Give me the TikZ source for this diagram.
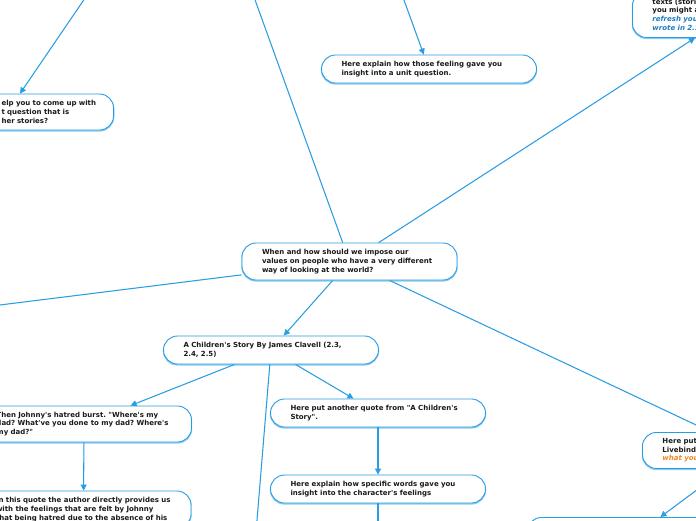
\documentclass[tikz,border=0pt]{standalone}
\usepackage{fontspec}
\newfontfamily\mmfont{DejaVu Sans}
\usetikzlibrary{arrows.meta,calc}
\definecolor{linecol}{HTML}{299DE2}
\definecolor{shadowcol}{HTML}{8CCBF0}
\definecolor{txtcol}{HTML}{1A1A1A}
\definecolor{bluetxt}{HTML}{1F7EC2}
\definecolor{orangetxt}{HTML}{F0891E}
\frenchspacing
\begin{document}
\begin{tikzpicture}[x=1pt,y=-1pt,
  box/.style={draw=linecol, line width=0.9pt, fill=white, rounded corners=14pt,
    inner xsep=20pt, inner ysep=3pt, text width=175pt, align=left,
    font=\mmfont\fontsize{7}{8.7}\selectfont\bfseries\frenchspacing, text=txtcol,
    preaction={draw=shadowcol, line width=1.4pt, transform canvas={yshift=-0.9pt}}},
  conn/.style={draw=linecol, line width=1.05pt},
  arr/.style={conn, -{Triangle[length=6pt,width=6pt]}}]
\fill[white] (0,0) rectangle (696,520);
\useasboundingbox (0,0) rectangle (696,520);

% free ends
\coordinate (tA) at (254,-3);
\coordinate (tB) at (402.5,-4);
\coordinate (tC) at (86.5,-4);
\coordinate (lA) at (-5,305.6);
\coordinate (bA) at (256.6,525);
\coordinate (bB) at (378,525);

% nodes
\node[box, minimum height=37pt] (cen) at (349.5,261.5)
  {\mbox{When and how should we impose our}\\\mbox{values on people who have a very different}\\\mbox{way of looking at the world?}};
\node[box, minimum height=28pt] (story) at (271,350)
  {\mbox{A Children's Story By James Clavell (2.3,}\\\mbox{2.4, 2.5)}};
\node[box, minimum height=36pt] (johnny) at (84,424)
  {\mbox{Then Johnny's hatred burst. "Where's my}\\\mbox{dad? What've you done to my dad? Where's}\\\mbox{my dad?"}};
\node[box, minimum height=37pt] (quote) at (83.5,509.5)
  {\mbox{In this quote the author directly provides us}\\\mbox{with the feelings that are felt by Johnny}\\\mbox{that being hatred due to the absence of his}};
\node[box, minimum height=28pt] (another) at (378,413)
  {\mbox{Here put another quote from "A Children's}\\\mbox{Story".}};
\node[box, minimum height=28pt] (specific) at (378,489)
  {\mbox{Here explain how specific words gave you}\\\mbox{insight into the character's feelings}};
\node[box, minimum height=28pt] (fu) at (429,69)
  {\mbox{Here explain how those feeling gave you}\\\mbox{insight into a unit question.}};
\node[box, minimum height=36pt, text width=92pt, anchor=east] (help) at (114,112)
  {\mbox{elp you to come up with}\\\mbox{t question that is}\\\mbox{her stories?}};
\node[box, minimum height=45.5pt, anchor=north west] (tr) at (632,-8.5)
  {\mbox{texts (stori}\\\mbox{you might a}\\\mbox{\textcolor{bluetxt}{\itshape refresh you}}\\\mbox{\textcolor{bluetxt}{\itshape wrote in 2.1}}};
\node[box, minimum height=36pt, anchor=north west] (ten) at (642,432)
  {\mbox{Here put}\\\mbox{Livebind}\\\mbox{\textcolor{orangetxt}{\itshape what you}}};
\node[box, minimum height=37pt, anchor=north west] (eleven) at (527,517) {};

% connectors
\draw[conn] (tA) -- (cen);
\draw[arr] (cen) -- ($(tr.south west)+(63,0)$);
\draw[conn] (cen) -- (lA);
\draw[arr] (cen) -- (story);
\draw[arr] (cen) -- (ten);
\draw[arr] (tB) -- (fu);
\draw[arr] (tC) -- ($(help.north east)+(-94,0)$);
\draw[arr] (story) -- (johnny);
\draw[arr] (story) -- (another);
\draw[conn] (story) -- (bA);
\draw[arr] (johnny) -- (quote);
\draw[arr] (another) -- (specific);
\draw[conn] (specific) -- (bB);
\draw[arr] (ten) -- (eleven);
\end{tikzpicture}
\end{document}
